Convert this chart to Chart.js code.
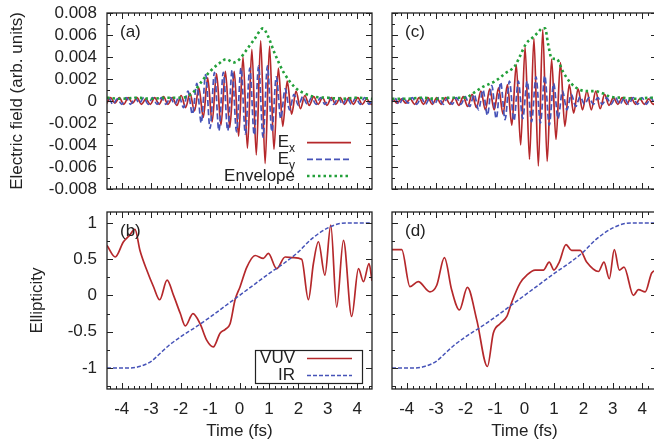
<!DOCTYPE html>
<html>
<head>
<meta charset="utf-8">
<script src="https://cdn.jsdelivr.net/npm/chart.js@4.4.1/dist/chart.umd.min.js"></script>
<style>
  html, body { margin: 0; padding: 0; background: #fff; overflow: hidden; width: 654px; height: 444px; }
  canvas { position: absolute; }
</style>
</head>
<body>
<canvas id="chartA" width="380" height="200" style="left:0;top:0"></canvas>
<canvas id="chartC" width="290" height="200" style="left:380px;top:0"></canvas>
<canvas id="chartB" width="380" height="244" style="left:0;top:200px"></canvas>
<canvas id="chartD" width="290" height="244" style="left:380px;top:200px"></canvas>
<script>
const FONT = '"Liberation Sans", Arial, Helvetica, sans-serif';
const INK = '#222';
const RED = '#b5282b';
const BLUE = '#4653b8';
const GREEN = '#23a03a';

// Tick labels
const timeTicks = [-4, -3, -2, -1, 0, 1, 2, 3, 4];
const fieldTicks = [-0.008, -0.006, -0.004, -0.002, 0, 0.002, 0.004, 0.006, 0.008];
const ellipTicks = [-1, -0.5, 0, 0.5, 1];

// Panel (a): field extrema
const exTimeA = [-4.53,-4.38,-4.23,-4.08,-3.93,-3.78,-3.63,-3.48,-3.33,-3.18,-3.03,-2.88,-2.73,-2.58,-2.43,-2.28,-2.13,-1.98,-1.83,-1.68,-1.53,-1.38,-1.23,-1.08,-0.93,-0.78,-0.63,-0.48,-0.33,-0.18,-0.03,0.12,0.27,0.42,0.57,0.72,0.87,1.02,1.17,1.32,1.47,1.62,1.77,1.92,2.07,2.22,2.37,2.52,2.67,2.82,2.97,3.12,3.27,3.42,3.57,3.72,3.87,4.02,4.17,4.32,4.47,4.62];
const exFieldA = [-0.0003,0.0003,-0.0002,0.0003,-0.0003,0.0003,-0.0002,0.0003,-0.0003,0.0002,
  -0.0003,0.0003,-0.0003,0.0004,-0.0003,0.0003,-0.0004,0.0005,-0.0006,0.0007,
  -0.0009,0.0012,-0.0015,0.0021,-0.0019,0.0025,-0.0022,0.0027,-0.0024,0.0027,
  -0.0032,0.004,-0.0043,0.0047,-0.0049,0.0055,-0.0057,0.005,-0.0044,0.003,
  -0.0023,0.0018,-0.0012,0.0009,-0.0007,0.0005,-0.0004,0.0004,-0.0003,0.0003,
  -0.0004,0.0003,-0.0003,0.0003,-0.0003,0.0003,-0.0003,0.0003,-0.0003,0.0002,
  -0.0003,0.0002];
const eyTimeA = [-4.6,-4.45,-4.3,-4.15,-4.0,-3.85,-3.7,-3.55,-3.4,-3.25,-3.1,-2.95,-2.8,-2.65,-2.5,-2.35,-2.2,-2.05,-1.9,-1.75,-1.6,-1.45,-1.3,-1.15,-1.0,-0.85,-0.7,-0.55,-0.4,-0.25,-0.1,0.05,0.2,0.35,0.5,0.65,0.8,0.95,1.1,1.25,1.4,1.55,1.7,1.85,2.0,2.15,2.3,2.45,2.6,2.75,2.9,3.05,3.2,3.35,3.5,3.65,3.8,3.95,4.1,4.25,4.4,4.55];
const eyFieldA = [-0.0003,0.0003,-0.0003,0.0002,-0.0003,0.0003,-0.0003,0.0003,-0.0002,0.0003,
  -0.0003,0.0003,-0.0003,0.0003,-0.0003,0.0003,-0.0003,0.0004,-0.0006,0.0009,
  -0.0012,0.0016,-0.002,0.0024,-0.0025,0.0026,-0.0027,0.0026,-0.0027,0.0028,
  -0.0028,0.003,-0.003,0.003,-0.0031,0.0032,-0.0033,0.0032,-0.0028,0.0022,
  -0.0016,0.0011,-0.0008,0.0006,-0.0004,0.0004,-0.0003,0.0003,-0.0003,0.0003,
  -0.0003,0.0003,-0.0003,0.0003,-0.0003,0.0003,-0.0003,0.0003,-0.0003,0.0003,
  -0.0003,0.0003];
const envTimeA = [-4.5,-4,-3.5,-3,-2.5,-2,-1.7,-1.5,-1.25,-1,-0.7,-0.45,-0.2,0,0.2,0.5,0.8,0.95,1.2,1.5,1.9,2.2,2.5,3,3.5,4,4.5];
const envA = [0.0003,0.0002,0.0003,0.0002,0.0003,0.0003,0.0005,0.001,0.0019,0.0027,0.0034,0.0038,0.0035,0.0038,0.0045,0.0056,0.0066,0.006,0.0043,0.0026,0.0012,0.0007,0.0004,0.0003,0.0002,0.0003,0.0002];

// Panel (c)
const exTimeC = [-4.63,-4.48,-4.33,-4.18,-4.03,-3.88,-3.73,-3.58,-3.43,-3.28,-3.13,-2.98,-2.83,-2.68,-2.53,-2.38,-2.23,-2.08,-1.93,-1.78,-1.63,-1.48,-1.33,-1.18,-1.03,-0.88,-0.73,-0.58,-0.43,-0.28,-0.13,0.02,0.17,0.32,0.47,0.62,0.77,0.92,1.07,1.22,1.37,1.52,1.67,1.82,1.97,2.12,2.27,2.42,2.57,2.72,2.87,3.02,3.17,3.32,3.47,3.62,3.77,3.92,4.07,4.22,4.37,4.52];
const exFieldC = [-0.0003,0.0002,-0.0002,0.0002,-0.0002,0.0002,-0.0003,0.0003,-0.0003,0.0003,
  -0.0003,0.0003,-0.0003,0.0003,-0.0003,0.0003,-0.0004,0.0004,-0.0005,0.0006,
  -0.0006,0.0009,-0.0008,0.0011,-0.0008,0.0012,-0.0012,0.0015,-0.0022,0.0033,
  -0.004,0.0049,-0.0053,0.0057,-0.0059,0.0065,-0.0055,0.0038,-0.0035,0.0035,
  -0.0023,0.0015,-0.0011,0.0011,-0.0008,0.0009,-0.0008,0.0009,-0.0007,0.0006,
  -0.0004,0.0003,-0.0003,0.0003,-0.0003,0.0003,-0.0003,0.0002,-0.0003,0.0002,
  -0.0003,0.0002];
const eyTimeC = [-4.56,-4.41,-4.26,-4.11,-3.96,-3.81,-3.66,-3.51,-3.36,-3.21,-3.06,-2.91,-2.76,-2.61,-2.46,-2.31,-2.16,-2.01,-1.86,-1.71,-1.56,-1.41,-1.26,-1.11,-0.96,-0.81,-0.66,-0.51,-0.36,-0.21,-0.06,0.09,0.24,0.39,0.54,0.69,0.84,0.99,1.14,1.29,1.44,1.59,1.74,1.89,2.04,2.19,2.34,2.49,2.64,2.79,2.94,3.09,3.24,3.39,3.54,3.69,3.84,3.99,4.14,4.29,4.44,4.59];
const eyFieldC = [-0.0003,0.0003,-0.0003,0.0003,-0.0002,0.0003,-0.0003,0.0003,-0.0003,0.0003,
  -0.0003,0.0003,-0.0003,0.0003,-0.0003,0.0003,-0.0003,0.0004,-0.0005,0.0006,
  -0.0008,0.001,-0.0013,0.0014,-0.0016,0.0017,-0.0017,0.0018,-0.0018,0.0018,
  -0.0016,0.0018,-0.0019,0.0022,-0.002,0.0023,-0.0022,0.0016,-0.0016,0.0009,
  -0.0008,0.0006,-0.0005,0.0004,-0.0003,0.0003,-0.0003,0.0003,-0.0003,0.0003,
  -0.0003,0.0003,-0.0003,0.0003,-0.0003,0.0003,-0.0003,0.0003,-0.0003,0.0003,
  -0.0003,0.0003];
const envTimeC = [-4.5,-4,-3.5,-3,-2.5,-2,-1.75,-1.4,-1.0,-0.66,-0.32,-0.15,0.05,0.25,0.45,0.6,0.7,0.8,0.92,1.1,1.3,1.55,1.9,2.2,2.4,2.65,2.9,3.3,3.8,4.3,4.5];
const envC = [0.0002,0.0002,0.0003,0.0002,0.0003,0.0003,0.0007,0.0013,0.0018,0.0025,0.0032,0.0041,0.0052,0.0057,0.0062,0.0066,0.0066,0.0052,0.0039,0.0038,0.0027,0.0017,0.001,0.0009,0.0009,0.0007,0.0004,0.0003,0.0002,0.0003,0.0002];

// Panels (b) and (d): ellipticity
const vuvTimeB = [-4.5,-4.22,-3.94,-3.75,-3.55,-3.38,-3.15,-2.92,-2.71,-2.46,-2.24,-2.01,-1.84,-1.58,-1.34,-1.11,-0.89,-0.66,-0.49,-0.32,-0.15,0.02,0.25,0.53,0.81,0.98,1.26,1.55,1.83,2.11,2.34,2.51,2.68,2.9,3.1,3.3,3.53,3.81,4.04,4.21,4.4,4.5];
const vuvB = [0.69,0.53,0.74,0.82,0.91,0.62,0.35,0.12,-0.06,0.21,0.0,-0.25,-0.42,-0.25,-0.39,-0.62,-0.71,-0.52,-0.47,-0.39,-0.06,0.12,0.39,0.55,0.51,0.58,0.37,0.53,0.52,0.5,-0.06,0.44,0.74,0.28,0.97,-0.16,0.76,-0.29,0.37,0.19,0.44,0.2];
const vuvTimeD = [-4.5,-4.17,-3.89,-3.61,-3.21,-2.98,-2.72,-2.47,-2.21,-1.94,-1.62,-1.26,-1.06,-0.83,-0.6,-0.43,-0.15,0.08,0.36,0.64,0.84,1.0,1.18,1.41,1.6,1.89,2.11,2.51,2.7,2.88,3.05,3.22,3.38,3.7,3.87,4.1,4.32,4.5];
const vuvD = [0.63,0.63,0.12,0.19,0.05,0.14,0.52,0.07,-0.2,0.11,-0.34,-0.98,-0.52,-0.39,-0.29,-0.09,0.17,0.28,0.35,0.35,0.46,0.35,0.46,0.7,0.62,0.62,0.46,0.33,0.46,0.23,0.63,0.35,0.39,0.0,0.08,0.05,0.31,0.35];
const irTime = [-4.5,-3.7,-3.4,-3.0,-2.7,-2.4,-2.0,-1.5,-1.0,-0.5,0,0.5,1.0,1.5,2.0,2.45,3.0,3.4,3.7,4.5];
const irVal = [-1,-1,-0.98,-0.91,-0.8,-0.69,-0.57,-0.44,-0.3,-0.15,0,0.15,0.3,0.44,0.6,0.78,0.93,0.99,1,1];

function pts(ts, vs) {
    return ts.map((t, i) => ({ x: t, y: vs[i] }));
}

function series(label, ts, vs, color, width, dash, order) {
    return {
        label, data: pts(ts, vs), borderColor: color, borderWidth: width, borderDash: dash,
        pointRadius: 0, cubicInterpolationMode: 'monotone', fill: false, order
    };
}

function stepsBetween(lo, hi, step, skipEvery) {
    // minor tick positions (decoration only)
    const out = [];
    const n0 = Math.ceil(lo / step - 1e-9), n1 = Math.floor(hi / step + 1e-9);
    for (let k = n0; k <= n1; k++) if (k % skipEvery !== 0) out.push(+(k * step).toFixed(6));
    return out;
}

// Frame, inward gnuplot-style ticks, panel tag and legend
const framePlugin = {
    id: 'frame',
    afterDatasetsDraw(chart, args, o) {
        const { ctx, chartArea: a } = chart;
        const xs = chart.scales.x, ys = chart.scales.y;
        ctx.save();
        ctx.strokeStyle = INK;
        ctx.lineWidth = 1;
        ctx.beginPath();
        const xMark = (v, len) => {
            const px = Math.round(xs.getPixelForValue(v)) + 0.5;
            ctx.moveTo(px, a.bottom); ctx.lineTo(px, a.bottom - len);
            ctx.moveTo(px, a.top); ctx.lineTo(px, a.top + len);
        };
        const yMark = (v, len) => {
            const py = Math.round(ys.getPixelForValue(v)) + 0.5;
            ctx.moveTo(a.left, py); ctx.lineTo(a.left + len, py);
            ctx.moveTo(a.right, py); ctx.lineTo(a.right - len, py);
        };
        timeTicks.forEach(v => xMark(v, 6));
        stepsBetween(xs.min, xs.max, 0.2, 5).forEach(v => xMark(v, 3));
        o.yMajor.forEach(v => yMark(v, 6));
        o.yMinor.forEach(v => yMark(v, 3));
        ctx.stroke();
        ctx.lineWidth = 1.3;
        ctx.strokeRect(a.left, a.top, a.right - a.left, a.bottom - a.top);

        ctx.fillStyle = INK;
        ctx.font = `17px ${FONT}`;
        ctx.textBaseline = 'middle';
        ctx.textAlign = 'left';
        ctx.fillText(o.tag, a.left + 13, a.top + 19);

        const lg = o.legend;
        if (lg) {
            if (lg.box) {
                const bx = a.right - lg.box.fromRight, by = a.top + lg.box.top;
                const bw = lg.box.fromRight - lg.box.toRight, bh = lg.box.bottom - lg.box.top;
                ctx.fillStyle = '#fff';
                ctx.fillRect(bx, by, bw, bh);
                ctx.lineWidth = 1.2;
                ctx.strokeStyle = INK;
                ctx.strokeRect(bx + 0.5, by + 0.5, bw, bh);
            }
            lg.items.forEach((it, i) => {
                const y = a.top + lg.rows[i];
                const tx = a.right - lg.textRight;
                ctx.fillStyle = INK;
                ctx.textAlign = 'right';
                let subW = 0;
                if (it.sub) {
                    ctx.font = `12px ${FONT}`;
                    subW = ctx.measureText(it.sub).width;
                    ctx.textAlign = 'left';
                    ctx.fillText(it.sub, tx - subW, y + 6);
                    ctx.textAlign = 'right';
                }
                ctx.font = `17px ${FONT}`;
                ctx.fillText(it.text, tx - subW, y);
                ctx.beginPath();
                ctx.strokeStyle = it.color;
                ctx.lineWidth = it.width;
                ctx.setLineDash(it.dash);
                ctx.moveTo(a.right - lg.lineFrom, y);
                ctx.lineTo(a.right - lg.lineTo, y);
                ctx.stroke();
                ctx.setLineDash([]);
            });
        }
        ctx.restore();
    }
};

const tickFont = { size: 17, family: FONT };

function fieldLabel(v) {
    return v === 0 ? '0' : v.toFixed(3);
}

// keep the plot box where the reference has it: fixed axis sizes, no label overflow padding
function pinAxis(s, size) {
    if (s.isHorizontal()) s.height = size; else s.width = size;
    s.paddingTop = 0; s.paddingBottom = 0; s.paddingLeft = 0; s.paddingRight = 0;
}

function makePanel(id, cfg) {
    const xScale = {
        type: 'linear', min: -4.5, max: 4.5, display: cfg.showTime,
        afterBuildTicks: s => { s.ticks = timeTicks.map(v => ({ value: v })); },
        afterFit: s => pinAxis(s, cfg.showTime ? 55 : 0),
        grid: { display: false, drawTicks: false },
        border: { display: false },
        ticks: { color: INK, font: tickFont, padding: 10, maxRotation: 0, autoSkip: false },
        title: { display: true, text: 'Time (fs)', color: INK, font: tickFont, padding: { top: 0, bottom: 2 } }
    };
    const yScale = {
        type: 'linear', min: cfg.yMin, max: cfg.yMax, display: !!cfg.yTitle,
        afterBuildTicks: s => { s.ticks = cfg.yTicks.map(v => ({ value: v })); },
        afterFit: s => pinAxis(s, cfg.yTitle ? 107 : 0),
        grid: { display: false, drawTicks: false },
        border: { display: false },
        ticks: { color: INK, font: tickFont, padding: 10, autoSkip: false, callback: cfg.yLabel },
        title: { display: !!cfg.yTitle, text: cfg.yTitle, color: INK, font: tickFont, padding: { top: cfg.titlePad, bottom: 0 } }
    };
    return new Chart(document.getElementById(id), {
        type: 'line',
        data: { datasets: cfg.datasets },
        options: {
            responsive: false,
            animation: false,
            layout: { padding: cfg.padding },
            scales: { x: xScale, y: yScale },
            plugins: {
                legend: { display: false },
                tooltip: { enabled: false },
                frame: { tag: cfg.tag, yMajor: cfg.yTicks, yMinor: cfg.yMinor, legend: cfg.legend }
            }
        },
        plugins: [framePlugin]
    });
}

const fieldMinor = stepsBetween(-0.008, 0.008, 0.001, 2);
const ellipMinor = stepsBetween(-1.29, 1.15, 0.25, 2);

makePanel('chartA', {
    tag: '(a)', showTime: false, yMin: -0.008, yMax: 0.008, yTicks: fieldTicks, yMinor: fieldMinor,
    yLabel: fieldLabel, yTitle: 'Electric field (arb. units)', titlePad: 7,
    padding: { left: 0, top: 13, right: 8, bottom: 11 },
    datasets: [
        series('Ex', exTimeA, exFieldA, RED, 1.7, [], 3),
        series('Ey', eyTimeA, eyFieldA, BLUE, 1.7, [6, 3], 2),
        series('Envelope', envTimeA, envA, GREEN, 2.6, [2.5, 3], 1)
    ],
    legend: {
        textRight: 77, lineFrom: 65, lineTo: 21, rows: [129.7, 146.3, 163],
        items: [
            { text: 'E', sub: 'x', color: RED, width: 1.7, dash: [] },
            { text: 'E', sub: 'y', color: BLUE, width: 1.7, dash: [6, 3] },
            { text: 'Envelope', color: GREEN, width: 2.6, dash: [2.5, 3] }
        ]
    }
});

makePanel('chartC', {
    tag: '(c)', showTime: false, yMin: -0.008, yMax: 0.008, yTicks: fieldTicks, yMinor: fieldMinor,
    yLabel: fieldLabel, yTitle: '',
    padding: { left: 12, top: 13, right: 13, bottom: 11 },
    datasets: [
        series('Ex', exTimeC, exFieldC, RED, 1.7, [], 3),
        series('Ey', eyTimeC, eyFieldC, BLUE, 1.7, [6, 3], 2),
        series('Envelope', envTimeC, envC, GREEN, 2.6, [2.5, 3], 1)
    ]
});

makePanel('chartB', {
    tag: '(b)', showTime: true, yMin: -1.29, yMax: 1.15, yTicks: ellipTicks, yMinor: ellipMinor,
    yLabel: v => String(v), yTitle: 'Ellipticity', titlePad: 27,
    padding: { left: 0, top: 12, right: 8, bottom: 0 },
    datasets: [
        series('VUV', vuvTimeB, vuvB, RED, 1.7, [], 2),
        series('IR', irTime, irVal, BLUE, 1.5, [4, 2], 1)
    ],
    legend: {
        box: { fromRight: 117, toRight: 10, top: 138, bottom: 171 },
        textRight: 77, lineFrom: 65, lineTo: 20, rows: [146.5, 163.5],
        items: [
            { text: 'VUV', color: RED, width: 1.7, dash: [] },
            { text: 'IR', color: BLUE, width: 1.5, dash: [4, 2] }
        ]
    }
});

makePanel('chartD', {
    tag: '(d)', showTime: true, yMin: -1.29, yMax: 1.15, yTicks: ellipTicks, yMinor: ellipMinor,
    yLabel: v => String(v), yTitle: '',
    padding: { left: 12, top: 12, right: 13, bottom: 0 },
    datasets: [
        series('VUV', vuvTimeD, vuvD, RED, 1.7, [], 2),
        series('IR', irTime, irVal, BLUE, 1.5, [4, 2], 1)
    ]
});
</script>
</body>
</html>
